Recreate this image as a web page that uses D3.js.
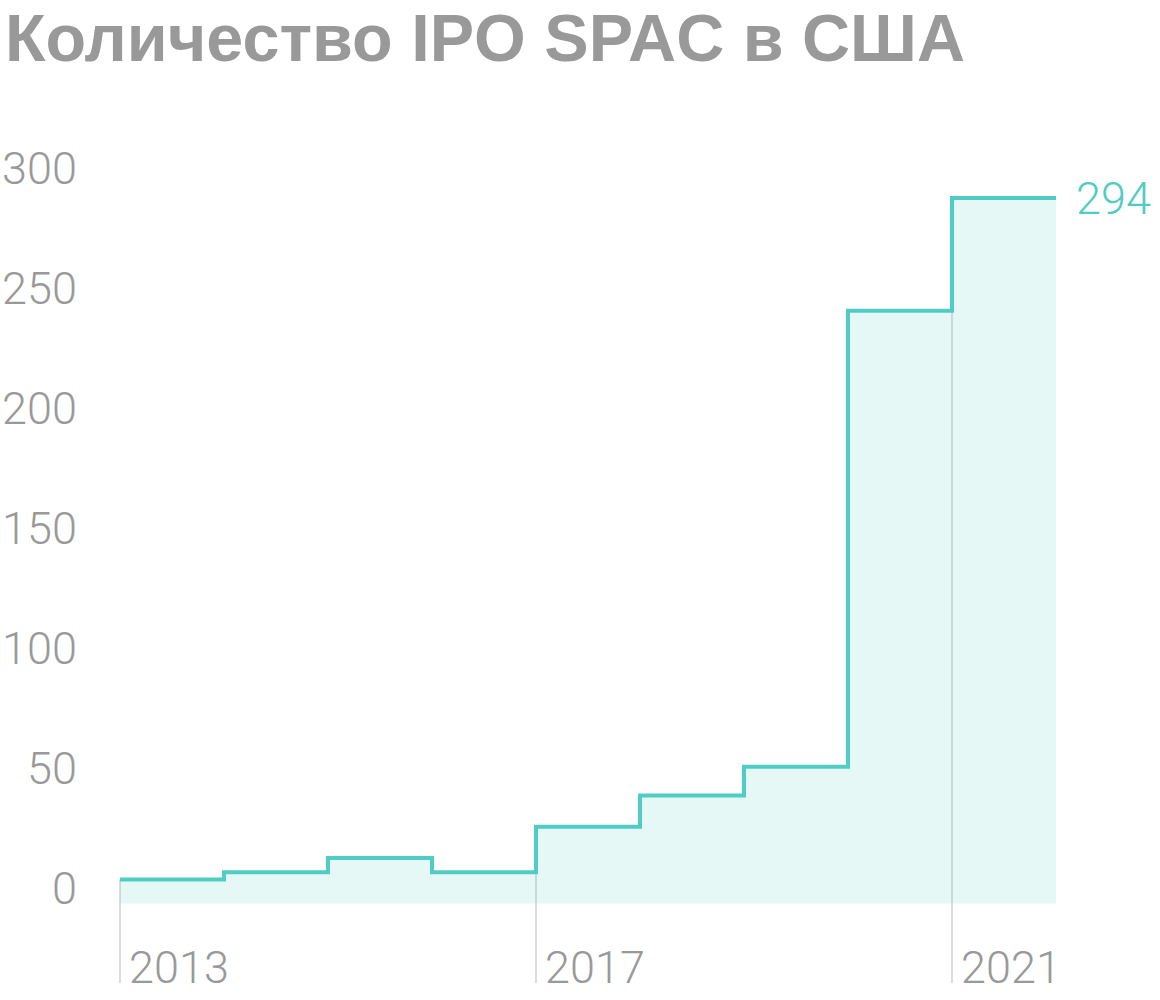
<!DOCTYPE html>
<html>
<head>
<meta charset="utf-8">
<script src="https://cdn.jsdelivr.net/npm/d3@7"></script>
<style>
  body { margin: 0; background: #fff; }
  svg { display: block; }
</style>
</head>
<body>
<div id="chart"></div>
<script>
// data
const years = [2013, 2014, 2015, 2016, 2017, 2018, 2019, 2020, 2021]
const counts = [10, 13, 19, 13, 32, 45, 57, 247, 294]
const yTicks = [0, 50, 100, 150, 200, 250, 300]
const yearTicks = [2013, 2017, 2021]
const title = "Количество IPO SPAC в США"

let width = 1160
let height = 1000

let line_color = "#4fcdc4"
let text_color = "#999999"
let font = "Roboto, 'Liberation Sans', sans-serif"

let svg = d3.select("#chart").append("svg")
  .attr("width", width)
  .attr("height", height)
  .attr("viewBox", [0, 0, width, height])

let x = d3.scaleLinear().domain([2013, 2022]).range([120, 1056])
let y = d3.scaleLinear().domain([0, 300]).range([903.5, 183.5])

// step points: each year holds until the next one, last one until 2022
let pts = years.map((yr, i) => [yr, counts[i]])
pts.push([years[years.length - 1] + 1, counts[counts.length - 1]])

// title
svg.append("text")
  .attr("x", 5).attr("y", 61)
  .attr("font-family", "'Liberation Sans', Arial, sans-serif")
  .attr("font-weight", 700)
  .attr("font-size", 66)
  .attr("fill", text_color)
  .attr("textLength", 960).attr("lengthAdjust", "spacingAndGlyphs")
  .text(title)

// year tick lines (behind the fill)
svg.selectAll(".xtick")
  .data(yearTicks)
  .join("line")
  .attr("x1", d => x(d)).attr("x2", d => x(d))
  .attr("y1", d => y(counts[years.indexOf(d)]))
  .attr("y2", 983)
  .attr("stroke", "#dcdcdc")
  .attr("stroke-width", 2)

// area fill
let area = d3.area()
  .x(d => x(d[0]))
  .y0(y(0))
  .y1(d => y(d[1]))
  .curve(d3.curveStepAfter)

svg.append("path")
  .attr("d", area(pts))
  .attr("fill", line_color)
  .attr("fill-opacity", 0.15)

// step line
let line = d3.line()
  .x(d => x(d[0]))
  .y(d => y(d[1]))
  .curve(d3.curveStepAfter)

svg.append("path")
  .attr("d", line(pts))
  .attr("fill", "none")
  .attr("stroke", line_color)
  .attr("stroke-width", 4)

// y labels
svg.selectAll(".ylab")
  .data(yTicks)
  .join("text")
  .attr("x", 77)
  .attr("y", d => y(d))
  .attr("text-anchor", "end")
  .attr("font-family", font).attr("font-weight", 300).attr("font-size", 45)
  .attr("fill", text_color)
  .text(d => d)

// year labels
svg.selectAll(".xlab")
  .data(yearTicks)
  .join("text")
  .attr("x", d => x(d) + 9)
  .attr("y", 983)
  .attr("font-family", font).attr("font-weight", 300).attr("font-size", 45)
  .attr("fill", text_color)
  .text(d => d)

// last value label
let last = counts[counts.length - 1]
svg.append("text")
  .attr("x", x(2022) + 20)
  .attr("y", y(last) + 16)
  .attr("font-family", font).attr("font-weight", 300).attr("font-size", 45)
  .attr("fill", line_color)
  .text(last)
</script>
</body>
</html>
